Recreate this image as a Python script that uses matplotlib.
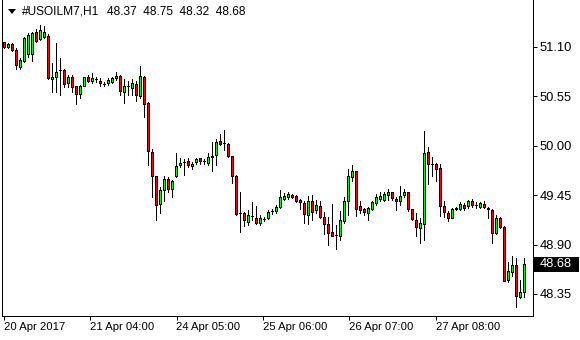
#!/usr/bin/env python3
"""Hourly candlestick chart of #USOILM7 in the MetaTrader look."""

import matplotlib
matplotlib.use("Agg")
import matplotlib.pyplot as plt
import matplotlib.transforms as mtransforms
from matplotlib.patches import Polygon, Rectangle
import numpy as np

# H1 bars, oldest first
opens = [51.15, 51.10, 51.13, 51.07, 50.88, 50.94, 51.02, 51.02, 51.27, 51.19,
         51.21, 51.22, 50.74, 50.76, 50.84, 50.84, 50.70, 50.77, 50.67, 50.58,
         50.67, 50.77, 50.72, 50.74, 50.72, 50.69, 50.70, 50.71, 50.75, 50.78,
         50.60, 50.67, 50.64, 50.69, 50.55, 50.76, 50.48, 49.93, 49.66, 49.35,
         49.51, 49.63, 49.52, 49.66, 49.78, 49.82, 49.83, 49.77, 49.82, 49.86,
         49.83, 49.81, 49.89, 49.90, 50.05, 50.03, 50.02, 49.89, 49.66, 49.25,
         49.25, 49.15, 49.22, 49.20, 49.14, 49.18, 49.19, 49.27, 49.27, 49.32,
         49.41, 49.43, 49.45, 49.44, 49.40, 49.36, 49.23, 49.38, 49.28, 49.33,
         49.21, 49.13, 49.04, 49.01, 49.00, 49.16, 49.38, 49.65, 49.72, 49.33,
         49.30, 49.25, 49.30, 49.36, 49.41, 49.40, 49.45, 49.49, 49.41, 49.39,
         49.45, 49.49, 49.29, 49.17, 49.08, 49.13, 49.93, 49.80, 49.80, 49.75,
         49.33, 49.25, 49.20, 49.31, 49.30, 49.34, 49.33, 49.38, 49.34, 49.32,
         49.35, 49.31, 49.28, 49.03, 49.20, 49.10, 48.50, 48.59, 48.67, 48.32,
         48.37]
highs = [51.16, 51.14, 51.14, 51.09, 50.98, 51.21, 51.26, 51.27, 51.30, 51.34,
         51.33, 51.24, 50.92, 51.14, 50.98, 50.85, 50.79, 50.79, 50.67, 50.68,
         50.77, 50.79, 50.81, 50.76, 50.75, 50.71, 50.75, 50.77, 50.82, 50.79,
         50.74, 50.72, 50.74, 50.72, 50.89, 50.78, 50.49, 49.96, 49.66, 49.54,
         49.66, 49.65, 49.62, 49.92, 49.86, 49.85, 49.86, 49.82, 49.86, 49.86,
         49.85, 49.92, 50.04, 50.08, 50.13, 50.18, 50.03, 49.89, 49.67, 49.48,
         49.26, 49.28, 49.37, 49.33, 49.23, 49.21, 49.28, 49.29, 49.34, 49.51,
         49.47, 49.48, 49.46, 49.45, 49.41, 49.39, 49.44, 49.45, 49.40, 49.38,
         49.26, 49.21, 49.35, 49.12, 49.27, 49.43, 49.74, 49.79, 49.72, 49.38,
         49.31, 49.32, 49.38, 49.46, 49.48, 49.49, 49.52, 49.49, 49.43, 49.55,
         49.52, 49.49, 49.30, 49.25, 49.20, 50.16, 49.99, 49.87, 49.81, 49.80,
         49.38, 49.27, 49.31, 49.32, 49.37, 49.36, 49.40, 49.41, 49.37, 49.37,
         49.38, 49.32, 49.29, 49.23, 49.21, 49.11, 48.70, 48.77, 48.75, 48.51,
         48.75]
lows = [51.09, 51.09, 51.06, 50.86, 50.86, 50.93, 50.99, 50.94, 51.16, 51.18,
        51.20, 50.74, 50.60, 50.60, 50.57, 50.65, 50.65, 50.60, 50.47, 50.53,
        50.66, 50.71, 50.70, 50.71, 50.66, 50.66, 50.68, 50.70, 50.73, 50.57,
        50.48, 50.57, 50.57, 50.50, 50.53, 50.32, 49.78, 49.43, 49.17, 49.25,
        49.39, 49.48, 49.43, 49.65, 49.76, 49.67, 49.76, 49.74, 49.80, 49.80,
        49.80, 49.79, 49.72, 49.79, 50.01, 49.95, 49.88, 49.58, 49.23, 49.04,
        49.11, 49.12, 49.17, 49.13, 49.12, 49.16, 49.18, 49.24, 49.25, 49.31,
        49.40, 49.41, 49.42, 49.37, 49.29, 49.14, 49.13, 49.17, 49.25, 49.19,
        49.02, 48.89, 48.99, 48.85, 48.95, 49.14, 49.23, 49.61, 49.22, 49.25,
        49.23, 49.17, 49.28, 49.34, 49.38, 49.38, 49.40, 49.40, 49.28, 49.34,
        49.43, 49.27, 49.17, 49.00, 48.92, 48.95, 49.57, 49.66, 49.61, 49.22,
        49.21, 49.16, 49.19, 49.28, 49.28, 49.28, 49.31, 49.32, 49.31, 49.31,
        49.31, 49.20, 48.92, 49.02, 49.08, 48.49, 48.48, 48.55, 48.20, 48.30,
        48.32]
closes = [51.10, 51.13, 51.07, 50.90, 50.96, 51.20, 51.23, 51.26, 51.17, 51.29,
          51.27, 50.75, 50.77, 50.82, 50.84, 50.69, 50.76, 50.65, 50.58, 50.67,
          50.76, 50.72, 50.75, 50.74, 50.70, 50.69, 50.73, 50.75, 50.78, 50.61,
          50.67, 50.67, 50.70, 50.56, 50.78, 50.47, 49.94, 49.66, 49.34, 49.51,
          49.63, 49.52, 49.61, 49.77, 49.81, 49.82, 49.78, 49.80, 49.85, 49.83,
          49.83, 49.87, 49.88, 50.04, 50.02, 50.03, 49.89, 49.66, 49.24, 49.25,
          49.17, 49.23, 49.22, 49.14, 49.20, 49.18, 49.26, 49.27, 49.32, 49.43,
          49.44, 49.46, 49.43, 49.39, 49.37, 49.24, 49.39, 49.26, 49.34, 49.21,
          49.13, 49.03, 49.00, 49.01, 49.17, 49.38, 49.66, 49.72, 49.30, 49.28,
          49.26, 49.31, 49.37, 49.43, 49.44, 49.46, 49.49, 49.42, 49.38, 49.44,
          49.49, 49.30, 49.18, 49.10, 49.14, 49.92, 49.80, 49.80, 49.74, 49.33,
          49.26, 49.20, 49.30, 49.29, 49.35, 49.31, 49.38, 49.34, 49.34, 49.36,
          49.32, 49.29, 49.03, 49.20, 49.10, 48.49, 48.61, 48.67, 48.33, 48.37,
          48.68]

symbol = "#USOILM7,H1"
time_labels = ["20 Apr 2017", "21 Apr 04:00", "24 Apr 05:00",
               "25 Apr 06:00", "26 Apr 07:00", "27 Apr 08:00"]
price_ticks = [51.10, 50.55, 50.00, 49.45, 48.90, 48.35]

COLORS = {
    "up": "#00ff00",
    "down": "#ff0000",
    "line": "#000000",
    "text": "#000000",
}

plt.rcParams["font.family"] = ["Liberation Sans", "DejaVu Sans"]

W, H = 580, 340
LW = 0.72  # one pixel at 100 dpi

fig = plt.figure(figsize=(W / 100, H / 100), dpi=100)
fig.patch.set_facecolor("white")
# plot area: x 2..533 px, y 0..316 px from top
ax = fig.add_axes([2 / W, 24 / H, 531 / W, 316 / H])
ax.set_facecolor("white")

o = np.array(opens)
c = np.array(closes)
x = np.arange(len(o))
body_colors = [COLORS["up"] if cc >= oo else COLORS["down"] for oo, cc in zip(o, c)]

ax.vlines(x, lows, highs, color=COLORS["line"], linewidth=LW, zorder=2,
          antialiased=False)
ax.bar(x, c - o, bottom=o, width=0.55, color=body_colors,
       edgecolor=COLORS["line"], linewidth=LW, zorder=3, antialiased=False)

ax.set_xlim(-0.425, 132.325)
ax.set_ylim(48.104, 51.623)

# spines
ax.spines["top"].set_visible(False)
for side in ("left", "right", "bottom"):
    ax.spines[side].set_linewidth(LW)
    ax.spines[side].set_color(COLORS["line"])

# price axis on the right
ax.yaxis.tick_right()
ax.set_yticks(price_ticks)
ax.set_yticklabels([f"{p:.2f}" for p in price_ticks])
ax.tick_params(axis="y", direction="out", length=3, width=LW, pad=1.5,
               labelsize=9.3, colors=COLORS["text"])

# time axis
label_step = 21.6
ax.set_xticks(np.arange(len(time_labels)) * label_step)
ax.set_xticklabels(time_labels, ha="left")
ax.tick_params(axis="x", direction="out", length=3, width=LW, pad=1.5,
               labelsize=8.1, colors=COLORS["text"])

# current price marker
trans = mtransforms.blended_transform_factory(ax.transAxes, ax.transData)
box_h = 15 * (51.623 - 48.104) / 316
ax.add_patch(Rectangle((1.0, closes[-1] - box_h / 2), 46 / 531, box_h,
                       transform=trans, facecolor="black", edgecolor="none",
                       clip_on=False, zorder=5))
ax.text(1.0 + 23 / 531, closes[-1], f"{closes[-1]:.2f}", transform=trans,
        ha="center", va="center", color="white", fontsize=9.3, zorder=6,
        clip_on=False)

# header
fig.patches.append(Polygon([(8 / W, 1 - 9 / H), (16 / W, 1 - 9 / H),
                            (12 / W, 1 - 14 / H)], closed=True,
                           transform=fig.transFigure, facecolor="black",
                           edgecolor="none"))
fig.text(22 / W, 1 - 12 / H, symbol, ha="left", va="center",
         fontsize=8.6, color=COLORS["text"])
fig.text(107 / W, 1 - 12 / H,
         f"{opens[-1]:.2f}  {highs[-1]:.2f}  {lows[-1]:.2f}  {closes[-1]:.2f}",
         ha="left", va="center", fontsize=8.6, color=COLORS["text"])

fig.savefig("out.png", dpi=100, facecolor="white")
plt.close(fig)
